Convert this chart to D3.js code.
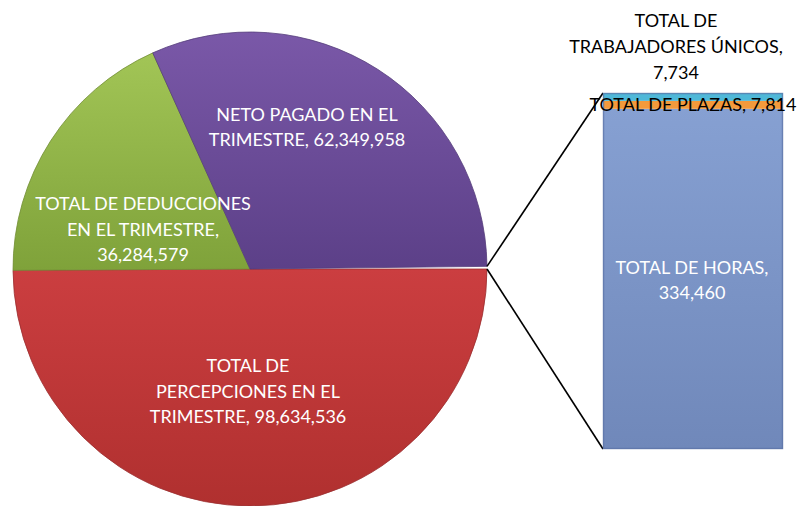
<!DOCTYPE html>
<html><head><meta charset="utf-8">
<script src="https://cdn.jsdelivr.net/npm/d3@7"></script>
<style>html,body{margin:0;padding:0;background:#fff;}svg{display:block;}</style>
</head><body>
<svg id="c" width="801" height="506"></svg>
<script>
// Pie slices (the last one, "OTROS", is broken out into the bar)
const pieLabels = [
  ["TOTAL DE", "PERCEPCIONES EN EL", "TRIMESTRE, 98,634,536"],
  ["TOTAL DE DEDUCCIONES", "EN EL TRIMESTRE,", "36,284,579"],
  ["NETO PAGADO EN EL", "TRIMESTRE, 62,349,958"],
  []
];
const pieValues = [98634536, 36284579, 62349958, 350008];
const pieColors = ["#C0393B", "#8DB043", "#6A4C98", "#ffffff"];

// Bar (secondary plot) stacked bottom -> top
const barNames = ["TOTAL DE HORAS", "TOTAL DE PLAZAS", "TOTAL DE TRABAJADORES ÚNICOS"];
const barValues = [334460, 7814, 7734];
const barColors = ["#7C95C8", "#F39A3C", "#4FB8D8"];

const svg = d3.select("#c");
const FONT = "Lato, 'Open Sans', sans-serif";
const FS = 18;
const defs = svg.append("defs");

function lin(id, c1, c2, x2, y2) {
  const g = defs.append("linearGradient").attr("id", id)
    .attr("x1", 0).attr("y1", 0).attr("x2", x2).attr("y2", y2);
  g.append("stop").attr("offset", "0%").attr("stop-color", c1);
  g.append("stop").attr("offset", "100%").attr("stop-color", c2);
}
lin("gRed", "#CB3E40", "#B0302F", 0, 1);
lin("gGreen", "#A2C556", "#7FA23A", 0, 1);
lin("gPurple", "#7A58A8", "#5C4088", 0, 1);
lin("gBlue", "#86A0D2", "#7088BA", 0, 1);
const pieFills = ["url(#gRed)", "url(#gGreen)", "url(#gPurple)", "#fff"];

const cx = 250, cy = 269, R = 237;
const g = svg.append("g").attr("transform", `translate(${cx},${cy})`);

const pie = d3.pie().sort(null).value(d => d)
  .startAngle(Math.PI / 2).endAngle(Math.PI / 2 + 2 * Math.PI);
const arcs = pie(pieValues);
const arc = d3.arc().innerRadius(0).outerRadius(R);

g.selectAll("path.slice").data(arcs.slice(0, 3)).join("path")
  .attr("class", "slice")
  .attr("d", arc)
  .attr("fill", (d, i) => pieFills[i])
  .attr("stroke", (d, i) => d3.color(pieColors[i]).darker(0.6))
  .attr("stroke-width", 0.8);

// Label positions (center of each label block relative to pie centre)
const labelPos = [[-2, 122], [-107, -40], [57, -142]];
pieLabels.forEach((lines, i) => {
  if (!lines.length) return;
  const t = g.append("text").attr("text-anchor", "middle")
    .attr("font-family", FONT).attr("font-size", FS).attr("fill", "#fff");
  const n = lines.length, lh = 25.5;
  lines.forEach((s, k) => {
    t.append("tspan").attr("x", labelPos[i][0])
      .attr("y", labelPos[i][1] + (k - (n - 1) / 2) * lh + 6.5).text(s);
  });
});

// Bar of pie
const barX = 603, barW = 180, barTop = 93, barBot = 449;
const y = d3.scaleLinear().domain([0, d3.sum(barValues)]).range([barBot, barTop]);
let acc = 0;
const stacks = barValues.map(v => { const s = {y0: acc, y1: acc + v}; acc += v; return s; });

// connector lines from the small slice edges to bar corners
const other = arcs[3];
function pt(a) { return [cx + R * Math.sin(a), cy - R * Math.cos(a)]; }
const pA = pt(other.startAngle), pB = pt(other.endAngle);
svg.append("line").attr("x1", pA[0]).attr("y1", pA[1]).attr("x2", barX).attr("y2", barTop)
  .attr("stroke", "#000").attr("stroke-width", 1.6);
svg.append("line").attr("x1", pB[0]).attr("y1", pB[1]).attr("x2", barX).attr("y2", barBot)
  .attr("stroke", "#000").attr("stroke-width", 1.6);

const barFills = ["url(#gBlue)", barColors[1], barColors[2]];
svg.selectAll("rect.seg").data(stacks).join("rect")
  .attr("class", "seg")
  .attr("x", barX).attr("width", barW)
  .attr("y", d => y(d.y1)).attr("height", d => y(d.y0) - y(d.y1))
  .attr("fill", (d, i) => barFills[i]);
// bevel edges
svg.append("rect").attr("x", barX + 0.5).attr("y", barTop + 0.5).attr("width", barW - 1).attr("height", barBot - barTop - 1)
  .attr("fill", "none").attr("stroke", "#5C74A6").attr("stroke-width", 1.5).attr("opacity", 0.7);

// bar labels
const bt = svg.append("text").attr("text-anchor", "middle").attr("font-family", FONT)
  .attr("font-size", FS).attr("fill", "#fff");
bt.append("tspan").attr("x", 692).attr("y", 274).text(barNames[0] + ",");
bt.append("tspan").attr("x", 692).attr("y", 299).text(d3.format(",")(barValues[0]));

svg.append("text").attr("text-anchor", "middle").attr("font-family", FONT)
  .attr("font-size", FS).attr("fill", "#000")
  .attr("x", 693).attr("y", 111).text(barNames[1] + ", " + d3.format(",")(barValues[1]));

const tt = svg.append("text").attr("text-anchor", "middle").attr("font-family", FONT)
  .attr("font-size", FS).attr("fill", "#000");
["TOTAL DE", "TRABAJADORES ÚNICOS,", d3.format(",")(barValues[2])].forEach((s, k) => {
  tt.append("tspan").attr("x", 676).attr("y", 27 + k * 26).text(s);
});
</script>
</body></html>
